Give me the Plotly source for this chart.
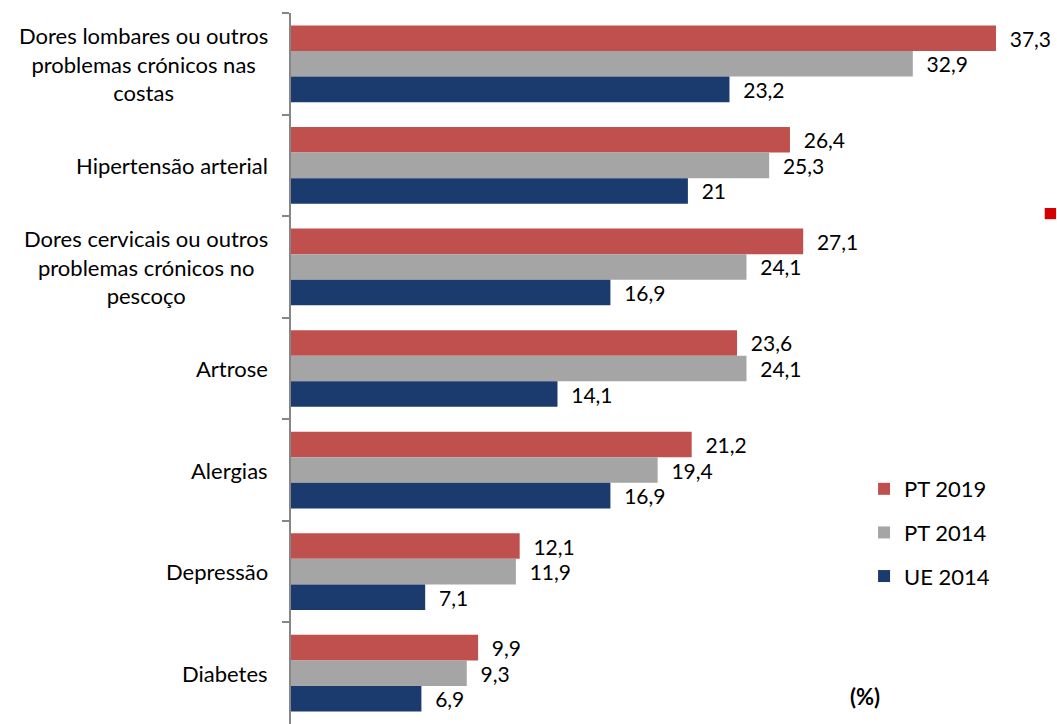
import plotly.graph_objects as go

categories = [
    "Dores lombares ou outros<br>problemas crónicos nas<br>costas",
    "Hipertensão arterial",
    "Dores cervicais ou outros<br>problemas crónicos no<br>pescoço",
    "Artrose",
    "Alergias",
    "Depressão",
    "Diabetes",
]
series_names = ["PT 2019", "PT 2014", "UE 2014"]
pt2019 = [37.3, 26.4, 27.1, 23.6, 21.2, 12.1, 9.9]
pt2014 = [32.9, 25.3, 24.1, 24.1, 19.4, 11.9, 9.3]
ue2014 = [23.2, 21.0, 16.9, 14.1, 16.9, 7.1, 6.9]
colors = ["#C0504D", "#A5A5A5", "#1B3B6F"]

FONT = "Lato, 'Open Sans', sans-serif"
FS = 22
cat_keys = [c.replace("<br>", " ") for c in categories]


def fmt(v):
    return "\u00a0\u00a0" + f"{v:g}".replace(".", ",")


fig = go.Figure()
for name, vals, col in zip(series_names, [pt2019, pt2014, ue2014], colors):
    fig.add_trace(go.Bar(
        y=cat_keys, x=vals, name=name, orientation="h",
        marker=dict(color=col, line=dict(width=0)),
        text=[fmt(v) for v in vals], textposition="outside",
        constraintext="none", cliponaxis=False,
        textfont=dict(family=FONT, size=21, color="#000000"),
        legendgroup=name,
    ))

annotations = []
for key, label in zip(cat_keys, categories):
    annotations.append(dict(
        x=0, xref="paper", y=key, yref="y", text=label, showarrow=False,
        xanchor="right", yanchor="middle", align="center",
        xshift=-21,
        font=dict(family=FONT, size=FS, color="#000000"),
    ))

annotations.append(dict(
    x=0.737, xref="paper", y=0.038, yref="paper", text="<b>(%)</b>",
    showarrow=False, xanchor="left", yanchor="middle",
    font=dict(family=FONT, size=FS, color="#000000"),
))

fig.update_layout(
    width=1057, height=724,
    margin=dict(l=291, r=10, t=13, b=0),
    paper_bgcolor="white", plot_bgcolor="white",
    barmode="group", bargap=0.245, bargroupgap=0,
    showlegend=True,
    legend=dict(
        x=0.758, y=0.36, xanchor="left", yanchor="top",
        traceorder="grouped", tracegroupgap=12,
        font=dict(family=FONT, size=FS, color="#000000"),
        bgcolor="rgba(0,0,0,0)",
    ),
    xaxis=dict(visible=False, range=[0, 40]),
    yaxis=dict(
        type="category", autorange="reversed",
        showticklabels=False, showgrid=False,
        showline=True, linecolor="#868686", linewidth=2,
        ticks="outside", tickson="boundaries", ticklen=7,
        tickcolor="#868686", tickwidth=2,
    ),
    annotations=annotations,
    shapes=[dict(type="rect", xref="paper", yref="paper",
                 x0=0.997, x1=1.012, y0=0.710, y1=0.7257,
                 fillcolor="#D50000", line=dict(width=0))],
)

fig.write_html(
    "out.html",
    config={"displayModeBar": False},
    post_script="document.body.style.margin='0';document.body.style.padding='0';",
)
